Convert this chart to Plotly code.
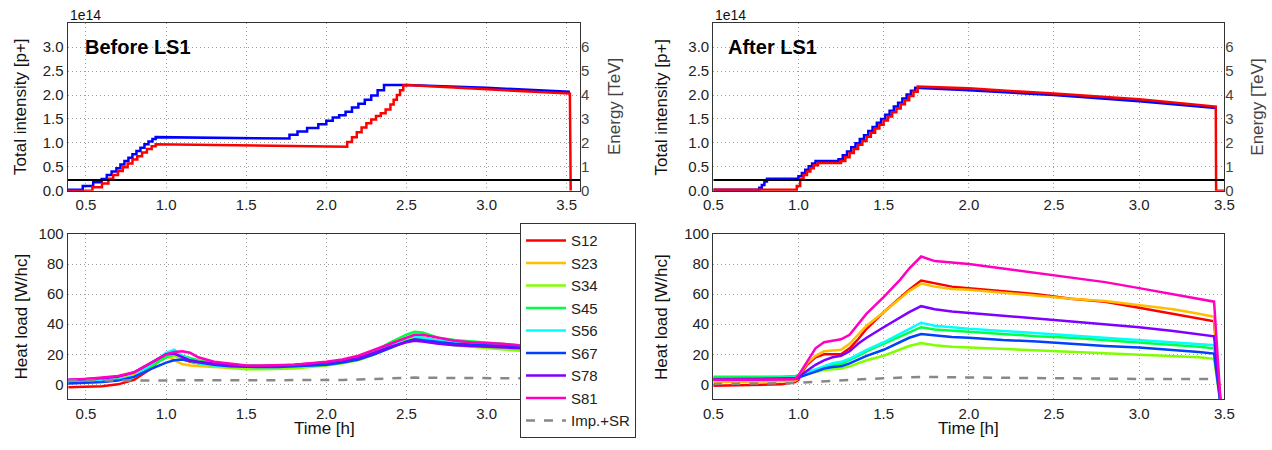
import plotly.graph_objects as go

# ---------------- data: top panels (intensity x1e14, energy TeV) ----------------
# Before LS1 - beam 1 (blue)
bl_b1_step_t = [0.386, 0.48, 0.545, 0.598, 0.63, 0.66, 0.69, 0.715, 0.74, 0.765, 0.79, 0.815, 0.84, 0.865, 0.89, 0.915, 0.935]
bl_b1_step_v = [0.02, 0.10, 0.175, 0.245, 0.33, 0.40, 0.47, 0.55, 0.62, 0.69, 0.76, 0.83, 0.90, 0.97, 1.03, 1.08, 1.12]
bl_b1_flat_t = [1.75]
bl_b1_flat_v = [1.09]
bl_b1_step2_t = [1.75, 1.77, 1.82, 1.88, 1.95, 2.0, 2.04, 2.08, 2.12, 2.16, 2.2, 2.24, 2.28, 2.32, 2.36]
bl_b1_step2_v = [1.09, 1.17, 1.24, 1.31, 1.39, 1.46, 1.53, 1.58, 1.65, 1.74, 1.82, 1.90, 1.99, 2.10, 2.21]
bl_b1_tail_t = [2.5, 3.0, 3.52]
bl_b1_tail_v = [2.21, 2.15, 2.07]

# Before LS1 - beam 2 (red)
bl_b2_step_t = [0.386, 0.54, 0.60, 0.64, 0.67, 0.70, 0.73, 0.76, 0.79, 0.82, 0.85, 0.88, 0.91, 0.935]
bl_b2_step_v = [0.0, 0.07, 0.15, 0.25, 0.33, 0.41, 0.49, 0.57, 0.65, 0.72, 0.80, 0.87, 0.93, 0.97]
bl_b2_flat_t = [2.1]
bl_b2_flat_v = [0.92]
bl_b2_step2_t = [2.1, 2.13, 2.16, 2.19, 2.22, 2.25, 2.28, 2.31, 2.34, 2.37, 2.40, 2.42, 2.44, 2.46, 2.48, 2.50]
bl_b2_step2_v = [0.92, 1.02, 1.12, 1.22, 1.32, 1.41, 1.49, 1.56, 1.62, 1.70, 1.80, 1.90, 2.00, 2.10, 2.20, 2.21]
bl_b2_tail_t = [3.0, 3.52, 3.525]
bl_b2_tail_v = [2.12, 2.03, 0.0]

# After LS1 - beam 1 (blue)
al_b1_pre_t = [0.5, 0.77]
al_b1_pre_v = [0.02, 0.02]
al_b1_step_t = [0.77, 0.785, 0.80, 0.815]
al_b1_step_v = [0.06, 0.12, 0.19, 0.25]
al_b1_flat_t = [1.0]
al_b1_flat_v = [0.25]
al_b1_step2_t = [1.0, 1.02, 1.04, 1.06, 1.08, 1.10]
al_b1_step2_v = [0.30, 0.37, 0.44, 0.51, 0.57, 0.62]
al_b1_flat2_t = [1.235]
al_b1_flat2_v = [0.62]
al_b1_step3_t = [1.235, 1.26, 1.285, 1.31, 1.335, 1.36, 1.385, 1.41, 1.435, 1.46, 1.485, 1.51, 1.535, 1.56, 1.585, 1.61, 1.635, 1.66, 1.685]
al_b1_step3_v = [0.66, 0.74, 0.82, 0.91, 0.99, 1.08, 1.16, 1.25, 1.33, 1.42, 1.50, 1.59, 1.67, 1.76, 1.84, 1.93, 2.01, 2.09, 2.15]
al_b1_tail_t = [2.0, 2.5, 3.0, 3.45]
al_b1_tail_v = [2.10, 2.00, 1.87, 1.73]

# After LS1 - beam 2 (red)
al_b2_pre_t = [0.5, 0.99]
al_b2_pre_v = [0.02, 0.02]
al_b2_step_t = [0.99, 1.01, 1.03, 1.05, 1.07, 1.09, 1.115]
al_b2_step_v = [0.10, 0.24, 0.33, 0.40, 0.47, 0.53, 0.58]
al_b2_flat_t = [1.25]
al_b2_flat_v = [0.58]
al_b2_step2_t = [1.25, 1.275, 1.30, 1.325, 1.35, 1.375, 1.40, 1.425, 1.45, 1.475, 1.50, 1.525, 1.55, 1.575, 1.60, 1.625, 1.65, 1.675, 1.70]
al_b2_step2_v = [0.62, 0.70, 0.79, 0.87, 0.96, 1.04, 1.13, 1.21, 1.30, 1.38, 1.47, 1.55, 1.64, 1.72, 1.81, 1.89, 1.98, 2.07, 2.18]
al_b2_tail_t = [2.0, 2.5, 3.0, 3.45, 3.452, 3.5]
al_b2_tail_v = [2.14, 2.03, 1.91, 1.76, 0.0, 0.0]

energy_before = 0.45
energy_after = 0.45

# ---------------- data: heat loads [W/hc] ----------------
sectors = ["S12", "S23", "S34", "S45", "S56", "S67", "S78", "S81"]
sector_colors = ["#ff0000", "#ffbf00", "#80ff00", "#00ff40", "#00ffff", "#0040ff", "#8000ff", "#ff00bf"]

t_before = [0.39, 0.5, 0.6, 0.7, 0.8, 0.9, 0.95, 1.0, 1.05, 1.1, 1.15, 1.2, 1.3, 1.4, 1.5, 1.6, 1.7, 1.8,
            1.9, 2.0, 2.1, 2.2, 2.3, 2.4, 2.5, 2.55, 2.6, 2.7, 2.8, 2.9, 3.0, 3.1, 3.2, 3.3, 3.4, 3.5]
hl_before = {
    "S12": [-2, -1.8, -1.2, 0, 3, 10, 15, 19, 20, 17, 15, 14, 12.5, 11.5, 11, 11, 11.5, 12, 13, 14, 15.5, 18, 22, 26, 30, 31, 31, 29, 28, 27, 26.5, 26, 25.5, 25, 24.5, 24],
    "S23": [1, 1.2, 1.8, 3, 7, 13, 17, 19, 16, 13.5, 12.5, 12, 11.5, 11, 11, 11, 11.5, 12, 13, 14, 15.5, 17.5, 21, 25, 29, 31, 30.5, 29, 27.5, 26.5, 26, 25.5, 25, 24.5, 24, 23.5],
    "S34": [1, 1.2, 1.8, 3, 5, 11, 15, 18, 19, 17, 15.5, 14, 12, 11, 10, 10, 10, 10.5, 11.5, 12.5, 14, 16, 20, 25, 30, 32, 31, 28, 26, 25, 24, 23, 22, 21.5, 21, 20.5],
    "S45": [2, 2.2, 2.6, 3.2, 5, 11, 15, 18, 20, 19, 17.5, 16, 14, 13, 12.5, 12, 12, 12, 12.5, 13, 14.5, 17, 22, 28, 33, 35, 34.5, 31, 29.5, 28.5, 28, 27, 26, 25.5, 25, 24.5],
    "S56": [1.5, 1.8, 2.3, 3, 5, 13, 17, 21, 23, 19, 16.5, 14, 12.5, 12, 11.5, 11.5, 11.5, 12, 12.5, 13.5, 15, 17, 21, 26, 31, 32, 31, 29, 28, 27.5, 27, 26.5, 26, 25.5, 25, 24.5],
    "S67": [0.5, 0.8, 1.5, 2.5, 5, 10, 12.5, 14.5, 16, 16.5, 15.5, 14.5, 13, 12, 11.5, 11.5, 11.5, 12, 12.5, 13, 14.5, 16.5, 20, 24.5, 28.5, 30, 29.5, 28, 27, 26.5, 26, 25.5, 25, 24.5, 24, 23.5],
    "S78": [3, 3.3, 4, 5, 8, 14, 17, 20, 20.5, 18, 16, 15, 13.5, 12.5, 12, 12, 12.5, 13, 13.5, 14.5, 16, 17.5, 21, 25, 28, 29, 28.5, 27, 26, 25.5, 25, 24.5, 24, 23.5, 23, 22.5],
    "S81": [3, 3.5, 4.5, 5.5, 8, 14, 17, 20, 21.5, 22, 21, 18, 15, 13.5, 12.5, 12.5, 12.5, 13, 14, 15, 16.5, 19, 23, 27, 31, 33, 33, 31, 29, 28, 27.5, 27, 26, 25.5, 25, 24.5],
}
imp_before = [2.5, 2.5, 2.6, 2.6, 2.6, 2.7, 2.7, 2.8, 2.8, 2.8, 2.8, 2.8, 2.8, 2.8, 2.8, 2.8, 2.8, 2.8,
              2.8, 2.8, 2.9, 3.2, 3.6, 4.2, 4.5, 4.5, 4.4, 4.3, 4.2, 4.1, 4.1, 4.0, 4.0, 3.9, 3.9, 3.8]

t_after = [0.5, 0.7, 0.9, 0.98, 1.0, 1.02, 1.05, 1.1, 1.15, 1.2, 1.25, 1.3, 1.35, 1.4, 1.5, 1.6, 1.65, 1.72,
           1.8, 1.9, 2.0, 2.2, 2.4, 2.6, 2.8, 3.0, 3.2, 3.35, 3.44, 3.48, 3.5]
hl_after = {
    "S12": [-1, -0.5, 0, 1.5, 3, 8, 13, 18, 20, 20, 20, 24, 30, 37, 48, 58, 63, 69, 67, 65, 64, 62, 60, 57, 55, 51, 47, 44, 42, -15, -15],
    "S23": [1.5, 1.5, 2, 2.5, 4, 9, 14, 19, 22, 22.5, 23, 27, 33, 39, 48, 57, 62, 67, 65, 63.5, 63, 61, 59, 57, 55.5, 53, 50, 47, 45, -15, -15],
    "S34": [4.5, 4.5, 4.5, 5, 5.5, 6, 6.5, 8, 9.5, 10, 10.5, 12, 14, 16, 19, 23, 25.5, 27.5, 26, 25, 24.5, 23.5, 23, 22, 21, 20, 19, 18, 17, -15, -15],
    "S45": [5, 5, 5, 5.5, 6, 6.5, 7, 9, 11, 13, 13.5, 16, 19, 22, 27, 32, 35, 38, 36.5, 35.5, 35, 33.5, 32, 31, 29.5, 28, 26.5, 25, 24, -15, -15],
    "S56": [4, 4, 4, 4.5, 5, 6.5, 8, 10, 12, 14, 15, 17, 20, 23, 28, 34, 37, 41, 39, 38, 37, 35.5, 34, 32.5, 31, 29.5, 28, 26.5, 26, -15, -15],
    "S67": [3.5, 3.5, 3.5, 4, 4.5, 5.5, 6.5, 8.5, 10.5, 11.5, 12, 14, 16.5, 19, 23, 28, 31, 33.5, 32.5, 31.5, 31, 29.5, 28.5, 27, 25.5, 24.5, 23, 21.5, 20.5, -15, -15],
    "S78": [3, 3, 3, 3.5, 4, 6.5, 9, 13, 16, 18, 19, 22, 27, 31, 38, 45, 48, 52, 50, 48.5, 47.5, 45.5, 44, 42, 40, 38, 35.5, 33.5, 32, -15, -15],
    "S81": [3, 3, 3, 3.5, 6, 10, 15, 24, 28, 29, 30, 33, 40, 47, 58, 70, 77, 85, 82, 81, 80, 77, 74, 71, 68, 64, 60, 57, 55, -15, -15],
}
imp_after_t = [0.5, 0.7, 0.8, 0.9, 1.0, 1.1, 1.2, 1.3, 1.5, 1.72, 2.0, 2.5, 3.0, 3.44]
imp_after = [0.3, 0.3, 0.4, 0.7, 1.0, 1.8, 2.5, 3.0, 4.0, 5.0, 4.6, 4.0, 3.6, 3.5]


def build(*parts):
    """parts: (kind, ts, vs); kind 'step' draws hv stairs, 'lin' draws straight segments."""
    xs, ys = [], []
    for kind, ts, vs in parts:
        for t, v in zip(ts, vs):
            if kind == "step" and xs:
                xs.append(t)
                ys.append(ys[-1])
            xs.append(t)
            ys.append(v)
    return xs, ys


FONT = "Liberation Sans, Arial, sans-serif"
fig = go.Figure()

# ---- top-left
x, y = build(("step", bl_b1_step_t, bl_b1_step_v), ("lin", bl_b1_flat_t, bl_b1_flat_v),
             ("step", bl_b1_step2_t, bl_b1_step2_v), ("lin", bl_b1_tail_t, bl_b1_tail_v))
fig.add_trace(go.Scatter(x=x, y=y, mode="lines", line=dict(color="#0000ff", width=2.5), showlegend=False, xaxis="x", yaxis="y"))
x, y = build(("step", bl_b2_step_t, bl_b2_step_v), ("lin", bl_b2_flat_t, bl_b2_flat_v),
             ("step", bl_b2_step2_t, bl_b2_step2_v), ("lin", bl_b2_tail_t, bl_b2_tail_v))
fig.add_trace(go.Scatter(x=x, y=y, mode="lines", line=dict(color="#ff0000", width=2.5), showlegend=False, xaxis="x", yaxis="y"))
fig.add_trace(go.Scatter(x=[0.386, 3.583], y=[energy_before, energy_before], mode="lines",
                         line=dict(color="#000000", width=2), showlegend=False, xaxis="x", yaxis="y2"))

# ---- top-right
x, y = build(("lin", al_b1_pre_t, al_b1_pre_v), ("step", al_b1_step_t, al_b1_step_v), ("lin", al_b1_flat_t, al_b1_flat_v),
             ("step", al_b1_step2_t, al_b1_step2_v), ("lin", al_b1_flat2_t, al_b1_flat2_v),
             ("step", al_b1_step3_t, al_b1_step3_v), ("lin", al_b1_tail_t, al_b1_tail_v))
fig.add_trace(go.Scatter(x=x, y=y, mode="lines", line=dict(color="#0000ff", width=2.5), showlegend=False, xaxis="x2", yaxis="y3"))
x, y = build(("lin", al_b2_pre_t, al_b2_pre_v), ("step", al_b2_step_t, al_b2_step_v), ("lin", al_b2_flat_t, al_b2_flat_v),
             ("step", al_b2_step2_t, al_b2_step2_v), ("lin", al_b2_tail_t, al_b2_tail_v))
fig.add_trace(go.Scatter(x=x, y=y, mode="lines", line=dict(color="#ff0000", width=2.5), showlegend=False, xaxis="x2", yaxis="y3"))
fig.add_trace(go.Scatter(x=[0.5, 3.5], y=[energy_after, energy_after], mode="lines",
                         line=dict(color="#000000", width=2), showlegend=False, xaxis="x2", yaxis="y4"))

# ---- bottom panels
for name, col in zip(sectors, sector_colors):
    fig.add_trace(go.Scatter(x=t_before, y=hl_before[name], mode="lines", name=name, legendgroup=name,
                             line=dict(color=col, width=2.5), xaxis="x3", yaxis="y5"))
fig.add_trace(go.Scatter(x=t_before, y=imp_before, mode="lines", name="Imp.+SR", legendgroup="imp",
                         line=dict(color="#888888", width=2.5, dash="dash"), xaxis="x3", yaxis="y5"))
for name, col in zip(sectors, sector_colors):
    fig.add_trace(go.Scatter(x=t_after, y=hl_after[name], mode="lines", name=name, legendgroup=name, showlegend=False,
                             line=dict(color=col, width=2.5), xaxis="x4", yaxis="y6"))
fig.add_trace(go.Scatter(x=imp_after_t, y=imp_after, mode="lines", name="Imp.+SR", legendgroup="imp", showlegend=False,
                         line=dict(color="#888888", width=2.5, dash="dash"), xaxis="x4", yaxis="y6"))

W, H = 1272, 450
def px(v):
    return v / W
def py(v):
    return 1 - v / H

LX = [px(67.7), px(580)]
RX = [px(713.3), px(1224.3)]
TY = [py(190.7), py(23.3)]
BY = [py(399.4), py(234)]

common_axis = dict(showline=True, mirror=True, linecolor="#333333", linewidth=1.2, ticks="", automargin=False,
                   showgrid=True, gridcolor="#a0a0a0", griddash="1px,3px", gridwidth=1, zeroline=False,
                   tickfont=dict(size=15, color="#222222", family=FONT))
xt = [0.5, 1.0, 1.5, 2.0, 2.5, 3.0, 3.5]
xtt = ["0.5", "1.0", "1.5", "2.0", "2.5", "3.0", "3.5"]
it = [0, 0.5, 1.0, 1.5, 2.0, 2.5, 3.0]
itt = ["0.0", "0.5", "1.0", "1.5", "2.0", "2.5", "3.0"]
et = [0, 1, 2, 3, 4, 5, 6]
ht = [0, 20, 40, 60, 80, 100]

right_axis = dict(showline=False, showgrid=False, zeroline=False, ticks="", range=[0, 7], tickvals=et,
                  side="right", automargin=False, tickfont=dict(size=15, color="#444444", family=FONT))

fig.update_layout(
    width=W, height=H, margin=dict(l=0, r=0, t=0, b=0, autoexpand=False),
    paper_bgcolor="white", plot_bgcolor="white",
    font=dict(family=FONT, color="#222222"),
    xaxis=dict(common_axis, domain=LX, anchor="y", range=[0.386, 3.583], tickvals=xt, ticktext=xtt),
    yaxis=dict(common_axis, domain=TY, anchor="x", range=[0, 3.5], tickvals=it, ticktext=itt),
    yaxis2=dict(right_axis, overlaying="y", anchor="x"),
    xaxis2=dict(common_axis, domain=RX, anchor="y3", range=[0.5, 3.5], tickvals=xt, ticktext=xtt),
    yaxis3=dict(common_axis, domain=TY, anchor="x2", range=[0, 3.5], tickvals=it, ticktext=itt),
    yaxis4=dict(right_axis, overlaying="y3", anchor="x2"),
    xaxis3=dict(common_axis, domain=LX, anchor="y5", range=[0.386, 3.583], tickvals=xt, ticktext=xtt),
    yaxis5=dict(common_axis, domain=BY, anchor="x3", range=[-10, 100], tickvals=ht),
    xaxis4=dict(common_axis, domain=RX, anchor="y6", range=[0.5, 3.5], tickvals=xt, ticktext=xtt),
    yaxis6=dict(common_axis, domain=BY, anchor="x4", range=[-10, 100], tickvals=ht),
    legend=dict(x=px(520), y=py(223.3), xanchor="left", yanchor="top", bgcolor="white",
                bordercolor="#333333", borderwidth=1, font=dict(size=15, color="#222222", family=FONT),
                tracegroupgap=0, itemwidth=40),
)

ann = []
def A(text, x, y, size, angle=0, xanchor="center", color="#111111"):
    ann.append(dict(text=text, x=px(x), y=py(y), xref="paper", yref="paper", showarrow=False,
                    textangle=angle, xanchor=xanchor, yanchor="middle",
                    font=dict(size=size, color=color, family=FONT)))

A("1e14", 68, 15, 14, xanchor="left")
A("1e14", 713.3, 15, 14, xanchor="left")
A("<b>Before LS1</b>", 83, 47, 20, xanchor="left", color="#000000")
A("<b>After LS1</b>", 726, 47, 20, xanchor="left", color="#000000")
A("Total intensity [p+]", 21, 107, 17, angle=-90)
A("Total intensity [p+]", 661.5, 107, 17, angle=-90)
A("Energy [TeV]", 615, 107, 17, angle=-90, color="#444444")
A("Energy [TeV]", 1257.7, 107, 17, angle=-90, color="#444444")
A("Heat load [W/hc]", 21, 316.5, 17, angle=-90)
A("Heat load [W/hc]", 661.5, 316.5, 17, angle=-90)
A("Time [h]", 324, 428, 17)
A("Time [h]", 968.8, 428, 17)
fig.update_layout(annotations=ann)

fig.write_html("out.html", config={"displayModeBar": False},
               post_script="document.body.style.margin='0px';")
